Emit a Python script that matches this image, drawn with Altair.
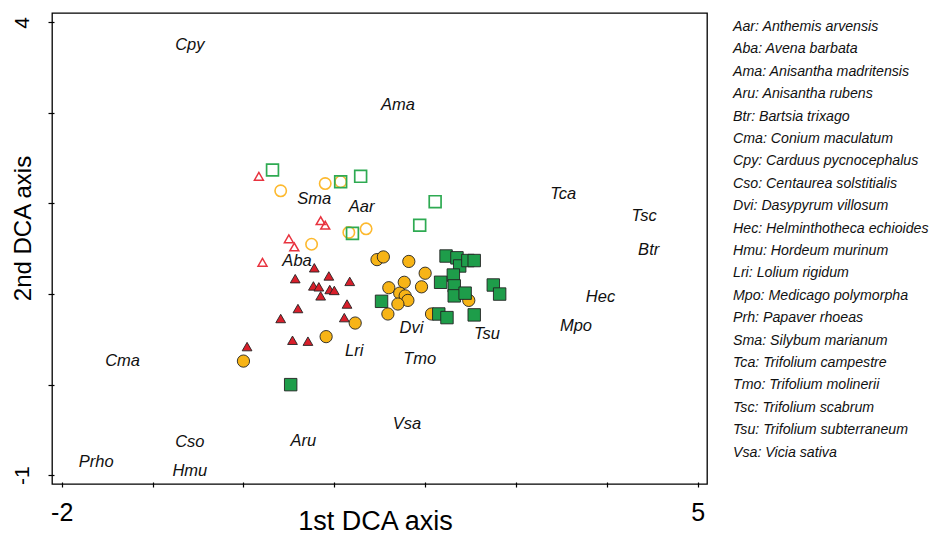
import altair as alt
import pandas as pd

FONT = "Liberation Sans"

# ---- sample scores (1st / 2nd DCA axis) ----
# open red triangles
ot_x = [0.17, 0.85, 0.90, 0.50, 0.56, 0.21]
ot_y = [2.30, 1.81, 1.76, 1.61, 1.52, 1.35]
# open orange circles
oc_x = [0.41, 0.90, 1.07, 1.35, 1.16, 0.75]
oc_y = [2.14, 2.22, 2.24, 1.72, 1.68, 1.55]
# open green squares
os_x = [0.32, 1.07, 1.29, 2.11, 1.94, 1.20]
os_y = [2.37, 2.24, 2.30, 2.02, 1.76, 1.67]
# filled red triangles
ft_x = [0.78, 0.57, 0.94, 1.17, 0.77, 0.83, 0.85, 0.95, 1.00, 0.60, 1.14, 0.41, 1.11, 0.54, 0.71, 0.04]
ft_y = [1.29, 1.17, 1.20, 1.14, 1.09, 1.08, 0.98, 1.05, 1.04, 0.84, 0.89, 0.73, 0.74, 0.49, 0.48, 0.42]
# filled orange circles
fc_x = [1.47, 1.54, 1.82, 2.00, 1.77, 1.60, 1.96, 1.72, 1.78, 1.81, 1.70, 1.59, 2.07, 2.48, 1.23, 0.91, 0.00]
fc_y = [1.38, 1.41, 1.36, 1.23, 1.13, 1.07, 1.08, 1.01, 0.98, 0.93, 0.89, 0.78, 0.78, 0.93, 0.68, 0.53, 0.26]
# filled green squares
fs_x = [2.23, 2.35, 2.38, 2.47, 2.54, 2.31, 2.17, 2.32, 2.32, 2.44, 2.75, 2.82, 2.54, 2.15, 2.24, 1.52, 0.52]
fs_y = [1.42, 1.40, 1.31, 1.37, 1.37, 1.21, 1.13, 1.09, 0.98, 1.01, 1.10, 1.00, 0.77, 0.78, 0.74, 0.92, 0.00]

# ---- species scores ----
sp_code = ["Cpy", "Ama", "Sma", "Aar", "Tca", "Tsc", "Btr", "Aba", "Hec", "Mpo",
           "Dvi", "Tsu", "Lri", "Tmo", "Cma", "Vsa", "Aru", "Cso", "Prho", "Hmu"]
sp_x = [-0.59, 1.70, 0.78, 1.30, 3.52, 4.41, 4.46, 0.59, 3.93, 3.66,
        1.85, 2.68, 1.22, 1.94, -1.33, 1.80, 0.66, -0.59, -1.62, -0.59]
sp_y = [3.75, 3.09, 2.05, 1.96, 2.10, 1.86, 1.49, 1.36, 0.97, 0.65,
        0.62, 0.56, 0.37, 0.28, 0.26, -0.43, -0.62, -0.63, -0.85, -0.95]

# ---- species key ----
key_text = [
    "Aar: Anthemis arvensis", "Aba: Avena barbata", "Ama: Anisantha madritensis",
    "Aru: Anisantha rubens", "Btr: Bartsia trixago", "Cma: Conium maculatum",
    "Cpy: Carduus pycnocephalus", "Cso: Centaurea solstitialis", "Dvi: Dasypyrum villosum",
    "Hec: Helminthotheca echioides", "Hmu: Hordeum murinum", "Lri: Lolium rigidum",
    "Mpo: Medicago polymorpha", "Prh: Papaver rhoeas", "Sma: Silybum marianum",
    "Tca: Trifolium campestre", "Tmo: Trifolium molinerii", "Tsc: Trifolium scabrum",
    "Tsu: Trifolium subterraneum", "Vsa: Vicia sativa",
]

x_ticks = [-2, -1, 0, 1, 2, 3, 4, 5]
y_ticks = [-1, 0, 1, 2, 3, 4]
x_dom = [-2.107, 5.102]
y_dom = [-1.097, 4.103]

RED, ORANGE, GREEN = "#D91F2B", "#F7B416", "#1E9D4A"
RED_O, ORANGE_O, GREEN_O = "#E8333F", "#FDB92E", "#2EAA52"

xs = alt.Scale(domain=x_dom, nice=False, zero=False)
ys = alt.Scale(domain=y_dom, nice=False, zero=False)

x_axis = alt.Axis(
    values=x_ticks, labelExpr="datum.value == -2 ? '-2' : datum.value == 5 ? '5' : ''",
    grid=False, domain=False, offset=-2, tickSize=5, tickColor="black", tickWidth=1.2,
    labelFont=FONT, labelFontSize=25, labelColor="black", labelPadding=13,
    labelOverlap=False, labelFlush=False,
    title="1st DCA axis", titleFont=FONT, titleFontSize=27, titleFontWeight="normal",
    titleColor="black", titleBaseline="alphabetic", titleY=47, titleX=323, titleAlign="center",
)
y_axis = alt.Axis(
    values=y_ticks, labelExpr="datum.value == -1 ? '-1' : datum.value == 4 ? '4' : ''",
    grid=False, domain=False, offset=-2, tickSize=6, tickColor="black", tickWidth=1.2,
    labelFont=FONT, labelFontSize=21, labelColor="black", labelPadding=20,
    labelAngle=270, labelAlign="center", labelBaseline="alphabetic",
    labelOverlap=False, labelFlush=False,
    title="2nd DCA axis", titleFont=FONT, titleFontSize=24, titleFontWeight="normal",
    titleColor="black", titleAngle=270, titleBaseline="alphabetic", titleAlign="center",
    titleX=-24, titleY=215,
)


def pts(xv, yv, shape, size, filled, color, stroke, sw):
    df = pd.DataFrame({"x": xv, "y": yv})
    if filled:
        mk = alt.Chart(df).mark_point(shape=shape, size=size, filled=True, fill=color,
                                      stroke=stroke, strokeWidth=sw, opacity=1)
    else:
        mk = alt.Chart(df).mark_point(shape=shape, size=size, filled=False,
                                      stroke=color, strokeWidth=sw, opacity=1)
    return mk.encode(
        x=alt.X("x:Q", scale=xs, axis=x_axis),
        y=alt.Y("y:Q", scale=ys, axis=y_axis),
    )


layers = [
    pts(ot_x, ot_y, "triangle-up", 80, False, RED_O, None, 1.5),
    pts(oc_x, oc_y, "circle", 130, False, ORANGE_O, None, 1.6),
    pts(os_x, os_y, "square", 140, False, GREEN_O, None, 1.7),
    pts(ft_x, ft_y, "triangle-up", 95, True, RED, "#222222", 0.9),
    pts(fc_x, fc_y, "circle", 150, True, ORANGE, "#222222", 0.9),
    pts(fs_x, fs_y, "square", 155, True, GREEN, "#222222", 0.9),
]

sp_df = pd.DataFrame({"x": sp_x, "y": sp_y, "code": sp_code})
labels = alt.Chart(sp_df).mark_text(
    font=FONT, fontSize=16.5, fontStyle="italic", color="#111111",
    align="center", baseline="middle",
).encode(
    x=alt.X("x:Q", scale=xs, axis=x_axis),
    y=alt.Y("y:Q", scale=ys, axis=y_axis),
    text="code:N",
)

main = alt.layer(*layers, labels)

key_df = pd.DataFrame({"row": list(range(len(key_text))), "t": key_text})
key = alt.Chart(key_df).mark_text(
    font=FONT, fontSize=14.2, fontStyle="italic", color="#111111",
    align="left", baseline="middle",
).encode(
    x=alt.value(681),
    y=alt.Y("row:Q", scale=alt.Scale(domain=[0, 19], range=[14, 439.6]), axis=None),
    text="t:N",
)

chart = alt.layer(main, key).resolve_scale(y="independent").properties(
    width=655, height=471,
    autosize=alt.AutoSizeParams(type="none"),
    padding={"left": 44, "top": 5, "right": 223, "bottom": 50},
    background="white",
).configure_view(stroke="black", strokeWidth=1.3)

chart.save("out.html", embed_options={"renderer": "svg", "actions": False})
